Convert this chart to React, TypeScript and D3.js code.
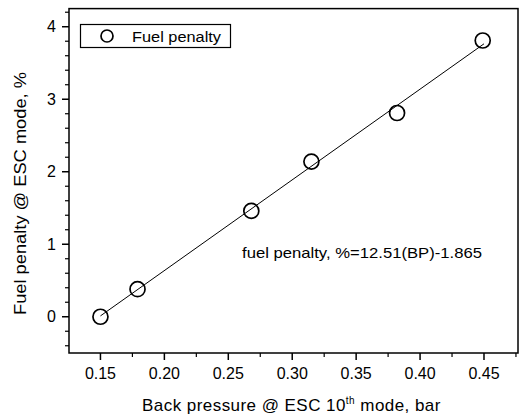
import React from "react";
import * as d3 from "d3";

const backPressure = [0.15, 0.179, 0.268, 0.315, 0.382, 0.449];
const fuelPenalty = [0.0, 0.38, 1.46, 2.14, 2.81, 3.81];
const xTicks = [0.15, 0.2, 0.25, 0.3, 0.35, 0.4, 0.45];
const xMinorTicks = [0.125, 0.175, 0.225, 0.275, 0.325, 0.375, 0.425, 0.475];
const yTicks = [0, 1, 2, 3, 4];
const yMinorTicks = [-0.4, -0.2, 0.2, 0.4, 0.6, 0.8, 1.2, 1.4, 1.6, 1.8, 2.2, 2.4, 2.6, 2.8, 3.2, 3.4, 3.6, 3.8, 4.2];
const fitSlope = 12.51;
const fitIntercept = -1.865;
const fitRange = [0.15, 0.45];

const W = 519;
const H = 415;
const L = 69, R = 518, T = 8.6, B = 353;
const font = "'Liberation Sans', Arial, sans-serif";

export default function App() {
  const x = d3.scaleLinear().domain([0.1254, 0.4766]).range([L, R]);
  const y = d3.scaleLinear().domain([-0.5, 4.25]).range([B, T]);
  const fitLine = d3.line<number>().x((d) => x(d)).y((d) => y(fitSlope * d + fitIntercept));

  return (
    <svg width={W} height={H} style={{ position: "absolute", left: 0, top: 0, background: "#fff" }} fontFamily={font}>
      <rect x={0} y={0} width={W} height={H} fill="#fff" />
      <path d={fitLine(fitRange) || ""} stroke="#000" strokeWidth={1} fill="none" />
      {backPressure.map((bp, i) => (
        <circle key={i} cx={x(bp)} cy={y(fuelPenalty[i])} r={7.5} fill="none" stroke="#000" strokeWidth={1.7} />
      ))}
      <rect x={L} y={T} width={R - L} height={B - T} fill="none" stroke="#000" strokeWidth={1.5} />
      {xTicks.map((t) => (
        <g key={t}>
          <line x1={x(t)} x2={x(t)} y1={B} y2={B + 7} stroke="#000" strokeWidth={1.5} />
          <text x={x(t)} y={379} textAnchor="middle" fontSize={16} fill="#000">{t.toFixed(2)}</text>
        </g>
      ))}
      {xMinorTicks.filter((t) => x(t) > L && x(t) < R).map((t) => (
        <line key={t} x1={x(t)} x2={x(t)} y1={B} y2={B + 4} stroke="#000" strokeWidth={1.2} />
      ))}
      {yTicks.map((t) => (
        <g key={t}>
          <line x1={L - 7} x2={L} y1={y(t)} y2={y(t)} stroke="#000" strokeWidth={1.5} />
          <text x={56} y={y(t) + 5.5} textAnchor="end" fontSize={16} fill="#000">{t}</text>
        </g>
      ))}
      {yMinorTicks.map((t) => (
        <line key={t} x1={L - 4} x2={L} y1={y(t)} y2={y(t)} stroke="#000" strokeWidth={1.2} />
      ))}
      <rect x={80.5} y={24.5} width={150} height={23} fill="#fff" stroke="#000" strokeWidth={1.2} />
      <circle cx={107} cy={36} r={6} fill="none" stroke="#000" strokeWidth={1.7} />
      <text x={132} y={41.5} fontSize={15.5} fill="#000" textLength={89} lengthAdjust="spacingAndGlyphs">Fuel penalty</text>
      <text x={242} y={258} fontSize={15} fill="#000" textLength={240} lengthAdjust="spacingAndGlyphs">fuel penalty, %=12.51(BP)-1.865</text>
      <text x={142} y={411} fontSize={17} letterSpacing={0.45} fill="#000">
        Back pressure @ ESC 10<tspan fontSize={10} dy={-7}>th</tspan><tspan dy={7}> mode, bar</tspan>
      </text>
      <text transform={`translate(26,193.5) rotate(-90)`} textAnchor="middle" fontSize={16.5} fill="#000" textLength={243} lengthAdjust="spacingAndGlyphs">Fuel penalty @ ESC mode, %</text>
    </svg>
  );
}
